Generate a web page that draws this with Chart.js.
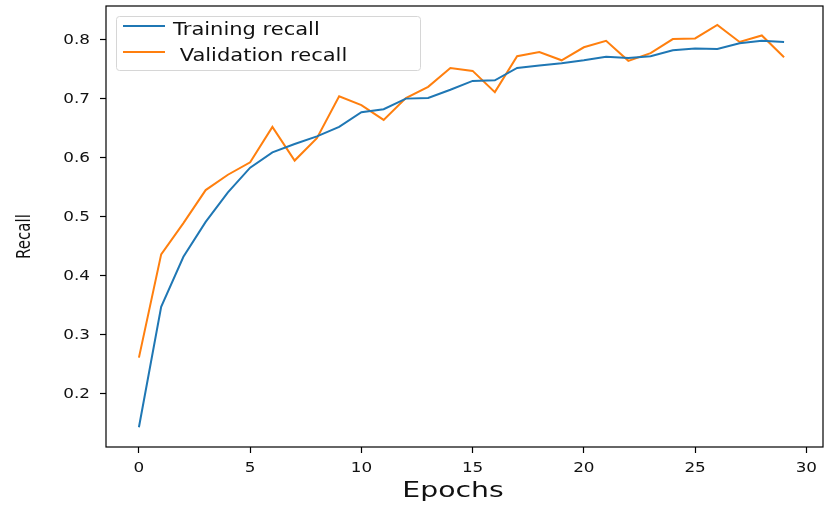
<!DOCTYPE html>
<html>
<head>
<meta charset="utf-8">
<script src="https://cdn.jsdelivr.net/npm/chart.js@4"></script>
<style>
  html, body { margin: 0; padding: 0; background: #fff; }
  #wrap { width: 824px; height: 505px; }
</style>
</head>
<body>
<div id="wrap"><canvas id="recallChart" width="824" height="505"></canvas></div>
<script>
const epochs = [0, 1, 2, 3, 4, 5, 6, 7, 8, 9, 10, 11, 12, 13, 14, 15, 16, 17, 18, 19, 20, 21, 22, 23, 24, 25, 26, 27, 28, 29];
const trainingRecall = [0.142, 0.346, 0.431, 0.490, 0.540, 0.582, 0.608, 0.622, 0.635, 0.651, 0.676, 0.681, 0.699, 0.700, 0.714, 0.729, 0.730, 0.751, 0.755, 0.759, 0.764, 0.770, 0.768, 0.771, 0.781, 0.784, 0.783, 0.793, 0.797, 0.795];
const validationRecall = [0.260, 0.435, 0.488, 0.544, 0.570, 0.591, 0.651, 0.594, 0.632, 0.703, 0.688, 0.663, 0.700, 0.719, 0.751, 0.746, 0.710, 0.771, 0.778, 0.764, 0.786, 0.797, 0.763, 0.776, 0.800, 0.801, 0.824, 0.795, 0.806, 0.769];
const xTicks = [0, 5, 10, 15, 20, 25, 30];
const yTicks = [0.2, 0.3, 0.4, 0.5, 0.6, 0.7, 0.8];

const FONT = "'DejaVu Sans', sans-serif";
const TEXT = '#111';
// the saved figure is a bit wider than tall, so text gets a horizontal stretch
const STRETCH = 1.2;

function points(ys) {
  return epochs.map((e, i) => ({ x: e, y: ys[i] }));
}

function stretchedText(ctx, str, x, y, size, sx, align) {
  ctx.save();
  ctx.translate(x, y);
  ctx.scale(sx, 1);
  ctx.font = size + 'px ' + FONT;
  ctx.textAlign = align;
  ctx.fillText(str, 0, 0);
  ctx.restore();
}

// box around the whole plot area, like a matplotlib axes frame
const frame = {
  id: 'frame',
  afterDatasetsDraw(chart) {
    const { ctx, chartArea: a } = chart;
    ctx.save();
    ctx.strokeStyle = '#000';
    ctx.lineWidth = 1.2;
    ctx.strokeRect(a.left, a.top, a.right - a.left, a.bottom - a.top);
    ctx.restore();
  }
};

// tick labels and axis titles, drawn from the scales' own ticks
const axisText = {
  id: 'axisText',
  afterDraw(chart) {
    const { ctx, scales: { x, y } } = chart;
    ctx.save();
    ctx.fillStyle = TEXT;
    ctx.textBaseline = 'alphabetic';
    x.ticks.forEach(t => {
      stretchedText(ctx, String(t.value), x.getPixelForValue(t.value), x.top + 25, 14, STRETCH, 'center');
    });
    y.ticks.forEach(t => {
      stretchedText(ctx, t.value.toFixed(1), y.right - 16, y.getPixelForValue(t.value) + 5, 14, STRETCH, 'right');
    });
    stretchedText(ctx, x.options.title.text, 453, 497, 20.5, 1.38, 'center');

    ctx.translate(24.5, (y.top + y.bottom) / 2 + 10);
    ctx.scale(1.35, 1);
    ctx.rotate(-Math.PI / 2);
    ctx.font = '15px ' + FONT;
    ctx.textAlign = 'center';
    ctx.textBaseline = 'middle';
    ctx.fillText(y.options.title.text, 0, 0);
    ctx.restore();
  }
};

// legend drawn inside the top-left corner of the plot
const innerLegend = {
  id: 'innerLegend',
  afterDraw(chart) {
    const { ctx, chartArea: a } = chart;
    const x = a.left + 10, y = a.top + 10;
    const w = 304, h = 54;
    ctx.save();
    ctx.fillStyle = 'rgba(255,255,255,0.85)';
    ctx.strokeStyle = '#d6d6d6';
    ctx.lineWidth = 1;
    ctx.beginPath();
    ctx.roundRect(x + 0.5, y + 0.5, w, h, 3);
    ctx.fill();
    ctx.stroke();
    ctx.fillStyle = TEXT;
    chart.data.datasets.forEach((ds, i) => {
      const cy = y + 10 + i * 26;
      ctx.strokeStyle = ds.borderColor;
      ctx.lineWidth = 2;
      ctx.beginPath();
      ctx.moveTo(x + 7, cy);
      ctx.lineTo(x + 49, cy);
      ctx.stroke();
      stretchedText(ctx, ds.label, x + 57, cy + 9, 17.5, STRETCH, 'left');
    });
    ctx.restore();
  }
};

new Chart(document.getElementById('recallChart'), {
  type: 'line',
  data: {
    datasets: [{
      label: 'Training recall',
      data: points(trainingRecall),
      borderColor: '#1f77b4',
      borderWidth: 2,
      pointRadius: 0,
      tension: 0
    }, {
      label: ' Validation recall',
      data: points(validationRecall),
      borderColor: '#ff7f0e',
      borderWidth: 2,
      pointRadius: 0,
      tension: 0
    }]
  },
  options: {
    responsive: false,
    animation: false,
    layout: { padding: { left: 0, right: 1, top: 6, bottom: 0 } },
    plugins: {
      legend: { display: false },
      tooltip: { enabled: false }
    },
    scales: {
      x: {
        type: 'linear',
        min: -1.48,
        max: 30.75,
        afterBuildTicks: s => { s.ticks = xTicks.map(v => ({ value: v })); },
        afterFit: s => { s.height = 58; s.paddingLeft = 0; s.paddingRight = 0; },
        grid: { drawOnChartArea: false, tickLength: 6, color: '#000', tickWidth: 1.2 },
        border: { display: false },
        ticks: { display: false },
        title: { display: false, text: 'Epochs' }
      },
      y: {
        min: 0.1085,
        max: 0.856,
        afterBuildTicks: s => { s.ticks = yTicks.map(v => ({ value: v })); },
        afterFit: s => { s.width = 106; s.paddingTop = 0; s.paddingBottom = 0; },
        grid: { drawOnChartArea: false, tickLength: 6, color: '#000', tickWidth: 1.2 },
        border: { display: false },
        ticks: { display: false },
        title: { display: false, text: 'Recall' }
      }
    }
  },
  plugins: [frame, axisText, innerLegend]
});
</script>
</body>
</html>
